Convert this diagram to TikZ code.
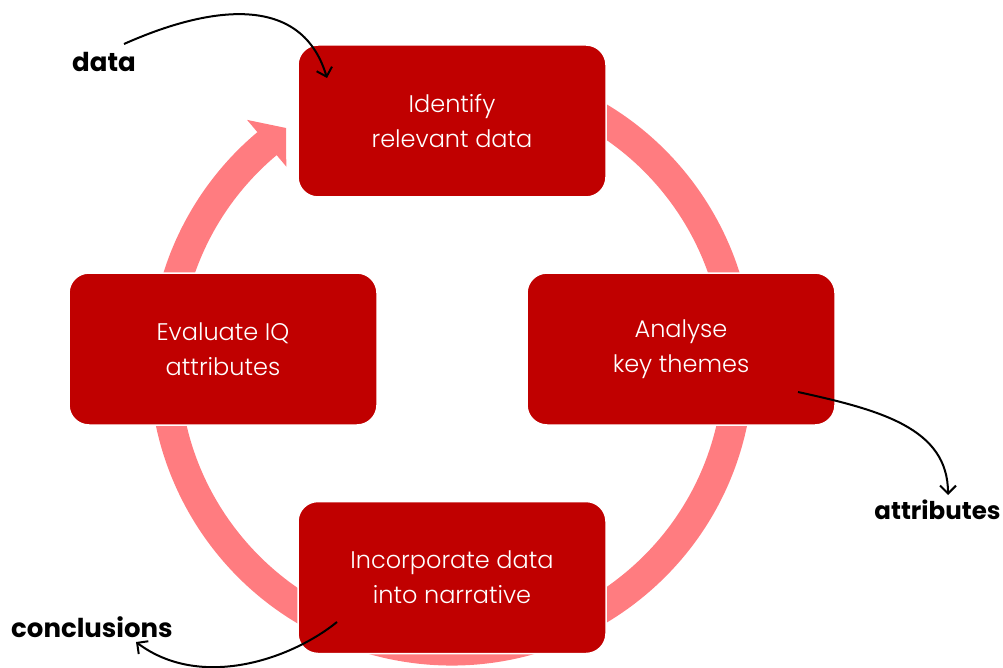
\documentclass[tikz,border=0pt]{standalone}
\usepackage{fontspec}
\setmainfont{Poppins}
\newfontfamily\lightfont{Poppins Light}
\usetikzlibrary{arrows.meta,calc}
\definecolor{boxred}{HTML}{C00000}
\definecolor{ringpink}{HTML}{FF7C80}
\tikzset{
  stage/.style={fill=boxred, draw=white, line width=1.5pt, rounded corners=20pt,
    minimum width=308pt, minimum height=152pt, inner sep=0pt, text=white,
    align=center, font=\lightfont\fontsize{24}{35}\selectfont},
  tag/.style={font=\bfseries\fontsize{26}{30}\selectfont, text=black, inner sep=0pt},
  conn/.style={draw=black, line width=2pt, -{Straight Barb[length=8pt,width=16pt]}}
}
\begin{document}
\begin{tikzpicture}[x=1pt,y=-1pt]
\useasboundingbox (0,0) rectangle (1003,668);
% centre of the cycle ring
\coordinate (O) at (451.5,363.5);
% thick ring arrow running clockwise, head pointing at the first stage
\fill[ringpink] ($(O)+(-80:302)$) arc[start angle=-80,end angle=230,radius=302]
  -- ($(O)+(230:318)$) -- (286,128) -- ($(O)+(230:257)$) -- ($(O)+(230:272)$)
  arc[start angle=230,end angle=-80,radius=272] -- cycle;
% the four stages
\node[stage] (identify) at (452,121) {Identify\\relevant data};
\node[stage] (analyse) at (681,349) {Analyse\\key themes};
\node[stage] (evaluate) at (223,349) {Evaluate IQ\\attributes};
\node[stage] (incorporate) at (452,577.5) {Incorporate data\\into narrative};
% inputs and outputs
\node[tag] (data) at (104,62) {data};
\node[tag, font=\bfseries\fontsize{24.5}{30}\selectfont] (attributes) at (937.5,510) {attributes};
\node[tag] (conclusions) at (92,627) {conclusions};
\coordinate (dataOut) at (124,44);
\coordinate (identifyIn) at (327,78);
\coordinate (analyseOut) at (798,392);
\coordinate (attributesIn) at (948,495);
\coordinate (incorporateOut) at (337,622);
\coordinate (conclusionsIn) at (136,642);
\draw[conn] (dataOut) .. controls (200,10) and (300,-12) .. (identifyIn);
\draw[conn] (analyseOut) .. controls (880,410) and (948,428) .. (attributesIn);
\draw[conn] (incorporateOut) .. controls (290,660) and (200,690) .. (conclusionsIn);
\end{tikzpicture}
\end{document}
